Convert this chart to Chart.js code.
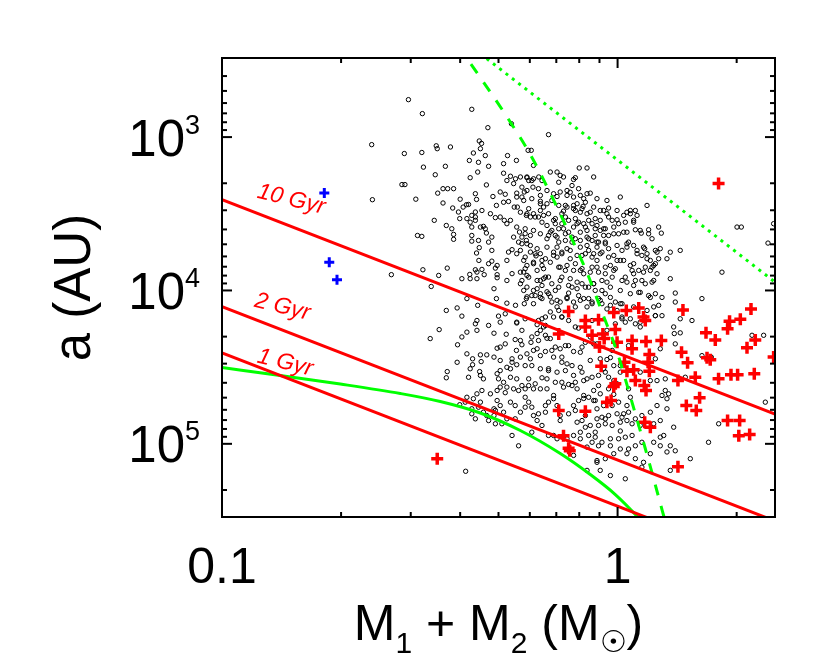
<!DOCTYPE html>
<html><head><meta charset="utf-8">
<script src="https://cdn.jsdelivr.net/npm/chart.js@4"></script>
<style>html,body{margin:0;padding:0;background:#fff;}#wrap{width:830px;height:664px;}</style>
</head><body><div id="wrap"><canvas id="c" width="830" height="664"></canvas></div>
<script>
// ---------- tick labels ----------
const xMajorTicks = [0.1, 1];
const xMajorLabels = ['0.1', '1'];
const xMinorTicks = [0.2, 0.3, 0.4, 0.5, 0.6, 0.7, 0.8, 0.9, 2];
const yMajorTicks = [1e3, 1e4, 1e5];
const yMajorBase = '10';
const yMajorExponents = ['3', '4', '5'];
const yMinorTicks = [400,500,600,700,800,900,2000,3000,4000,5000,6000,7000,8000,9000,20000,30000,40000,50000,60000,70000,80000,90000,200000];

// ---------- disruption lines (a proportional to M / age) ----------
const ageLabels = ['10 Gyr', '2 Gyr', '1 Gyr'];
const ageLineMass = [0.1, 2.5];
const ageLine10Gyr = [2560, 64000];
const ageLine2Gyr = [12750, 318750];
const ageLine1Gyr = [25500, 637500];

// ---------- green curves ----------
const greenSolidMass = [0.100,0.1404,0.1991,0.2823,0.3563,0.4497,0.5676,0.7164,0.853,0.987,1.128,1.175];
const greenSolidSep  = [31790,35850,40740,46980,52990,62970,81900,115700,158600,214200,302600,341300];
const greenDashMass = [0.3956,0.455,0.5262,0.6016,0.676,0.7551,0.8384,0.9203,0.9982,1.077,1.175,1.297,1.328];
const greenDashSep  = [256,427,744,1297,2329,4248,7746,14560,25380,49150,107300,272300,341300];
const greenDotMass = [0.45, 2.5];
const greenDotSep  = [286, 8825];

// ---------- crosses ----------
const blueCrosses = [[0.1814,2319],[0.1867,6538],[0.1953,8516]];
const redCrosses = [[0.752,13700],[0.829,15700],[0.829,17300],[0.895,15500],[0.978,13900],[1.052,13500],[1.131,13000],[1.163,14900],[1.175,15700],[1.463,13400],[2.174,13200],[2.043,15400],[1.919,15900],[1.897,17800],[0.710,19200],[0.862,19600],[0.918,19200],[0.925,20600],[0.987,18000],[0.997,21800],[0.900,23400],[1.088,21200],[1.088,24000],[1.180,21500],[1.290,21200],[1.673,18900],[1.766,21000],[2.229,21000],[2.124,23600],[2.48,27200],[1.203,26200],[1.194,29400],[1.203,33600],[1.451,25300],[1.503,29600],[1.683,27500],[1.715,28300],[0.909,31200],[1.041,29400],[1.056,33600],[1.098,32900],[1.109,38700],[1.421,38700],[1.572,36800],[1.800,37700],[1.935,35500],[2.011,35500],[2.216,34900],[0.978,42300],[0.987,40600],[1.168,41700],[1.180,44900],[0.940,53500],[0.963,52200],[1.612,50100],[1.492,56300],[1.581,60600],[0.710,60600],[0.829,61300],[1.171,72300],[1.210,77900],[1.897,70500],[2.035,70500],[2.025,88600],[2.157,86900],[0.730,88600],[0.752,107000],[0.757,111000],[1.421,141000],[1.800,2010],[0.350,125000]];

// ---------- wide binaries (open circles) [M1+M2, a] ----------
const widePairs = [
[0.296,570],[0.321,703],[0.428,659],[0.470,868],[0.539,818],[0.669,964],[0.447,1060],[0.453,1100],[0.348,1140],[0.350,1190],[0.378,1160],[0.239,1120],[0.289,1280],[0.320,1260],[0.432,1270],[0.450,1190],[0.463,1320],[0.594,1220],[0.605,1220],[0.527,1320],[0.555,1420],[0.422,1420],[0.445,1460],[0.367,1550],[0.323,1570],[0.472,1550],[0.515,1490],[0.703,1690],[0.800,1590],[0.613,1530],[0.632,1820],[0.644,1920],
[0.346,1760],[0.443,1690],[0.424,1840],[0.285,2040],[0.290,2040],[0.240,2560],[0.309,2540],[0.351,2320],[0.362,2170],[0.372,2170],[0.385,2170],[0.400,2540],[0.362,2690],[0.383,2900],[0.344,3490],[0.437,2340],[0.440,2550],[0.466,2050],[0.484,2440],[0.505,2280],[0.520,2360],[0.515,2660],[0.530,2630],[0.494,2790],[0.415,2760],[0.407,2860],[0.420,2750],[0.454,3010],[0.437,3080],[0.428,3240],[0.399,3400],[0.416,3400],[0.437,3490],[0.424,3590],[0.437,3320],[0.477,3160],[0.491,3350],[0.505,3320],[0.517,3490],[0.525,3670],[0.548,2860],[0.558,2860],[0.556,2320],[0.573,2460],[0.581,2280],[0.546,2010],[0.525,1920],[0.515,1720],[0.536,1800],[0.552,1870],[0.568,1820],[0.590,1840],[0.613,1870],[0.611,2120],[0.596,1920],[0.590,2230],[0.638,2400],[0.638,2620],[0.596,2930],[0.588,3240],[0.613,3160],[0.602,3320],[0.638,3010],[0.631,3320],[0.650,2860],[0.663,2720],[0.682,2590],[0.669,3160],[0.696,3400],[0.644,3590],[0.663,3770],[0.682,4060],[0.676,4160],[0.663,4600],[0.696,4380],[0.703,5220],[0.689,5910],[0.657,6210],[0.638,5760],[0.619,5760],[0.622,5950],[0.602,5620],[0.590,4960],[0.588,4720],[0.602,4380],[0.584,4260],[0.565,4160],[0.573,4490],[0.562,4840],[0.568,5480],[0.579,6370],[0.590,6870],[0.584,7210],[0.579,7590],[0.573,8610],[0.590,7980],[0.613,6690],[0.644,6370],[0.626,7400],[0.650,7210],[0.669,8180],[0.650,8380],[0.638,8610],[0.644,9280],[0.626,9740],[0.619,10800],[0.638,10500],[0.644,11300],[0.663,10200],[0.676,11000],[0.682,11900],[0.696,10000],[0.703,12800],[0.676,13800],[0.689,14900],[0.657,14900],[0.644,15300],[0.631,15700],[0.626,16700],[0.638,18200],[0.650,17300],[0.657,19600],[0.626,19100],[0.607,20100],[0.573,18200],[0.556,16100],[0.552,12500],[0.581,12200],[0.588,11300],[0.590,9510],[0.568,9040],[0.541,7770],[0.525,8610],[0.496,8260],[0.525,6370],[0.530,5620],[0.541,5420],[0.496,6870],[0.491,7150],[0.481,6440],[0.472,6690],[0.454,7290],[0.437,7330],[0.441,7590],[0.423,7860],[0.424,8380],[0.404,8380],[0.441,8380],[0.460,7890],[0.496,7890],[0.481,5480],[0.472,4840],[0.481,4490],[0.466,4220],[0.463,3960],[0.458,3820],[0.428,3860],[0.450,3860],[0.428,4380],[0.428,4770],[0.445,4720],[0.440,5700],[0.447,5260],[0.446,6370],[0.381,3960],[0.385,4310],[0.385,4640],[0.369,3770],[0.396,3080],[0.312,4380],[0.320,4440],[0.322,7330],[0.371,7150],[0.268,7890],[0.338,9420],[0.353,7980],[0.416,11300],[0.443,12500],[0.494,11300],[0.487,9740],[0.525,12100],[0.369,13500],[0.393,13000],[0.404,14700],[0.441,15700],[0.437,16500],[0.472,16900],[0.487,19000],[0.523,19300],[0.505,16100],[0.520,14200],[0.556,16300],[0.500,14700],[0.416,18700],[0.441,18200],[0.404,20100],[0.336,20600],[0.354,18000],[0.590,11000],[0.613,10000],[0.613,12200],
[0.716,1777],[0.730,1820],[0.774,1890],[0.782,1840],[0.870,1820],[0.767,2070],[0.710,1970],[0.759,2290],[0.745,2400],[0.797,2170],[0.837,2340],[0.853,2320],[0.821,2520],[0.829,2660],[0.870,2860],[0.790,2720],[0.774,2790],[0.738,2790],[0.703,2440],[0.730,3040],[0.738,3320],[0.723,3160],[0.782,3010],[0.805,3090],[0.813,2930],[0.837,3160],[0.878,3400],[0.904,3490],[0.922,3010],[0.940,3160],[0.949,2900],[0.997,3010],[1.036,3240],[1.056,3090],[1.077,3010],[1.109,3010],[1.120,3240],[0.997,3460],[0.969,3490],[1.006,3670],[1.046,3590],[1.098,3590],[1.187,2790],[0.696,3670],[0.710,3960],[0.703,4490],[0.752,3490],[0.774,3860],[0.782,3400],[0.797,3590],[0.821,3670],[0.845,3490],[0.862,3670],[0.878,3960],[0.887,3770],[0.904,4060],[0.931,3960],[0.922,4380],[0.949,4380],[0.978,4270],[1.006,4270],[1.056,4170],[1.109,4020],[1.148,4230],[1.198,4020],[1.270,3860],[1.290,4230],[1.222,4600],[1.066,4840],[1.056,4960],[1.098,5090],[1.163,5220],[1.171,5340],[1.246,5480],[1.282,5340],[1.120,5760],[1.152,5910],[1.187,6210],[1.210,6370],[1.270,6210],[1.333,6210],[1.359,5630],[1.440,5480],[1.026,5480],[1.036,6370],[1.077,6870],[1.088,7400],[1.131,7400],[1.163,7600],[1.210,7400],[1.258,7780],[1.222,7050],[1.246,6690],[1.359,8380],[1.026,8610],[1.056,8830],[1.109,8610],[1.175,9040],[1.222,8830],[1.399,10400],[1.098,9280],[1.077,10500],[1.131,10300],[1.198,10800],[1.246,10500],[1.295,11100],[1.234,12800],[1.270,12500],[1.246,14600],[1.295,14600],[1.187,13500],[1.175,15700],[1.077,15300],[1.109,16500],[1.141,16100],[1.026,12200],[0.987,11900],[0.959,11100],[0.931,10500],[0.913,12200],[0.895,11300],[0.940,13200],[0.997,13500],[1.026,14900],[1.046,16100],[0.987,16500],[0.805,11600],[0.774,11900],[0.782,12800],[0.745,11300],[0.716,11900],[0.710,13500],[0.723,14900],[0.752,15700],[0.782,17300],[0.837,12800],[0.845,11300],[0.862,11900],[0.878,10000],[0.797,10800],[0.752,10400],[0.710,9520],[0.723,8190],[0.759,8380],[0.738,7400],[0.716,7050],[0.703,6060],[0.723,5630],[0.745,5340],[0.767,4840],[0.782,4600],[0.837,4490],[0.862,4720],[0.878,4380],[0.895,4840],[0.931,4840],[0.949,5340],[0.978,5910],[0.997,6370],[0.987,7220],[0.959,6870],[0.931,7050],[0.895,7600],[0.913,8610],[0.940,8830],[0.969,8190],[0.870,9040],[0.845,9520],[0.813,9040],[0.790,9740],[0.767,9520],[0.821,7780],[0.805,7400],[0.782,6690],[0.759,6210],[0.813,5910],[0.845,5480],[0.870,5760],[0.887,6370],[0.862,7050],[0.887,5220],[0.913,5630],[0.837,5090],[0.805,5220],[0.738,4720],[0.710,4840],[0.837,4060],[0.805,4170],[0.752,4170],[0.730,3960],[1.634,11300],[1.836,7600],[2.004,3860],[2.055,3860],[2.40,4910],[2.48,3670],[1.399,11900],[1.440,15300],[1.386,17300],[1.440,18900],[1.391,19100],[2.187,19600],[2.340,19600],[1.542,15700],
[0.394,22600],[0.496,23800],[0.505,23400],[0.520,22300],[0.551,20900],[0.573,22600],[0.604,21800],[0.631,21200],[0.663,20500],[0.696,23400],[0.716,24000],[0.752,22900],[0.774,25000],[0.813,23400],[0.829,21800],[0.853,20100],[0.870,22300],[0.416,25900],[0.430,27900],[0.450,26300],[0.467,26300],[0.452,29100],[0.424,32400],[0.430,30500],[0.448,33800],[0.450,35800],[0.458,37700],[0.420,36800],[0.393,29400],[0.371,33800],[0.369,37100],[0.487,27200],[0.505,28600],[0.525,31700],[0.541,27900],[0.555,24600],[0.568,27200],[0.590,25900],[0.613,24600],[0.638,26600],[0.657,25000],[0.682,24600],[0.689,27200],[0.723,27200],[0.745,30100],[0.767,30900],[0.805,31700],[0.813,34100],[0.774,35800],[0.738,33300],[0.703,34100],[0.669,32400],[0.638,32400],[0.607,30900],[0.584,30900],[0.556,30500],[0.536,32400],[0.505,33300],[0.496,34900],[0.500,37700],[0.515,39700],[0.536,36800],[0.556,37700],[0.573,41700],[0.596,37700],[0.619,40600],[0.644,37100],[0.663,37700],[0.696,39700],[0.723,39700],[0.730,42700],[0.767,41700],[0.790,43800],[0.837,37700],[0.862,36800],[0.870,44900],[0.821,38700],[0.782,39700],[0.663,43800],[0.638,43800],[0.613,43800],[0.584,43800],[0.562,44900],[0.546,43800],[0.525,42700],[0.505,42700],[0.496,44900],[0.477,47200],[0.454,44900],[0.441,47200],[0.432,50800],[0.416,49700],[0.412,53500],[0.399,55600],[0.428,59100],[0.450,53500],[0.445,57700],[0.458,62200],[0.467,65400],[0.487,59100],[0.496,52200],[0.505,56300],[0.515,62200],[0.525,68700],[0.510,74000],[0.491,74000],[0.472,70500],[0.536,53500],[0.551,56300],[0.568,62200],[0.584,49700],[0.596,53500],[0.607,57700],[0.584,57700],[0.613,65400],[0.626,70500],[0.644,75900],[0.631,63700],[0.657,56300],[0.669,53500],[0.689,50800],[0.703,56300],[0.716,65400],[0.752,63700],[0.774,56300],[0.797,52200],[0.821,48400],[0.845,49700],[0.870,52200],[0.887,59100],[0.829,65400],[0.813,70500],[0.790,72300],[0.829,77900],[0.805,84000],[0.774,88200],[0.805,92700],[0.845,88200],[0.878,84000],[0.862,97700],[0.895,103000],[0.837,105000],[0.774,119000],[0.745,92700],[0.689,88200],[0.703,92700],[0.669,88200],[0.607,84000],[0.562,103000],[0.541,88200],[0.437,68700],[0.428,63700],[0.487,65400],[0.837,149000],[0.887,132000],[0.413,151000],
[0.904,27900],[0.940,28200],[0.959,27400],[0.978,30900],[0.922,32400],[0.895,35800],[0.949,36800],[0.978,38700],[1.016,34100],[0.997,40600],[0.949,43800],[0.904,47200],[0.878,52200],[0.922,56300],[0.969,56300],[1.006,53500],[1.056,56300],[1.077,49700],[1.066,62200],[1.036,63700],[0.997,63700],[0.949,65400],[0.913,67100],[0.887,68700],[0.895,75900],[0.931,74000],[0.969,75900],[1.016,72300],[1.026,67100],[1.056,70500],[1.088,74000],[1.109,68700],[1.152,65400],[1.210,62200],[1.234,74000],[1.282,70500],[1.258,56300],[1.295,48400],[1.333,50800],[1.320,44900],[1.346,47200],[1.258,38700],[1.320,37700],[1.399,22300],[1.483,36800],[1.386,77900],[1.333,59100],[1.308,88200],[1.282,90500],[1.359,103000],[1.399,111000],[1.333,113000],[1.282,103000],[1.234,97700],[1.210,116000],[1.152,97700],[1.109,103000],[1.088,88200],[1.046,90500],[1.006,92700],[0.959,92700],[0.913,97700],[0.878,90500],[1.066,108000],[1.056,116000],[1.016,108000],[0.978,116000],[0.959,103000],[0.931,125000],[0.887,128500],[0.904,149000],[0.959,161000],[1.046,169000],[1.109,125000],[1.163,132000],[1.152,142000],[1.359,149000],[1.527,125000],[1.698,97700],[1.801,74000],[2.363,53500],[1.634,26600],[1.725,27200],
[0.590,1820],[0.607,1920],[0.676,1690],[0.837,1590],[0.573,2120],[0.631,2170],[0.663,2230],[0.689,2340],[0.716,2280],[0.745,2230],[0.774,2460],[0.805,2400],[0.887,2520],[0.940,2590],[1.016,2460],[0.556,2460],[0.579,2590],[0.607,2520],[0.638,2720],[0.710,2790],[0.745,2860],[0.774,2930],[0.818,2830],[0.853,3090],[0.904,3010],[0.949,3320],[1.077,3160],[1.098,3490],[0.568,3090],[0.590,3160],[0.619,3320],[0.650,3240],[0.689,3490],[0.723,3670],[0.790,3670],[0.829,3860],[0.922,3960],[0.978,3860],[1.036,4170],[1.141,4060],[1.198,4270],[0.536,3490],[0.556,3860],[0.584,3960],[0.613,4060],[0.638,4270],[0.669,4380],[0.738,4270],[0.767,4490],[0.805,4720],[0.845,4600],[0.887,4840],[0.931,4960],[0.997,5090],[1.056,5220],[1.120,5480],[1.187,5760],[1.258,5630],[0.546,4490],[0.573,4960],[0.602,5090],[0.626,5340],[0.663,5220],[0.689,5630],[0.723,5760],[0.759,5480],[0.790,5910],[0.829,5760],[0.862,6060],[0.904,5760],[0.949,6060],[1.016,6370],[1.098,6690],[1.175,7050],[1.234,6870],[0.556,5760],[0.584,6060],[0.613,6550],[0.644,6870],[0.676,6550],[0.710,7050],[0.745,6870],[0.774,7400],[0.813,7210],[0.853,7600],[0.887,7050],[0.931,7780],[0.978,7400],[1.046,8190],[1.098,7780],[1.152,8610],[1.234,8610],[0.568,7600],[0.596,8190],[0.626,8610],[0.657,8190],[0.682,9040],[0.716,8610],[0.752,9280],[0.790,8830],[0.829,9520],[0.870,9040],[0.913,10000],[0.959,9520],[1.016,10000],[1.141,10300],[1.210,11100],[0.579,10000],[0.607,10800],[0.638,11100],[0.669,10500],[0.703,11600],[0.745,11100],[0.821,11300],[0.862,12200],[0.904,11600],[0.959,12500],[1.016,12200],[1.098,12800],
[0.584,15300],[0.657,16900],[0.723,14900],[0.797,17600],[0.862,15700],[0.940,18200],[1.026,15300],[1.141,17300],[1.246,14600],[0.568,21200],[0.626,24000],[0.676,20600],[0.738,22900],[0.805,25300],[0.887,22300],[0.969,24600],[1.066,22900],[1.282,24000],[0.541,29400],[0.602,27900],[0.669,33300],[0.723,29400],[0.853,28600],[0.931,34100],[1.016,30900],[1.141,34100],[1.246,27900],[0.520,46400],[0.596,41700],[0.689,48400],[0.752,41000],[0.821,50600],[0.895,41700],[0.978,47600],[1.066,43800],[1.210,38700],[0.491,60600],[0.551,68700],[0.657,62200],[0.716,70500],[0.782,60600],[0.853,75900],[0.931,68700],[1.016,82500],[1.141,75900]
];

// ---------- build ----------
const FONT = '"Liberation Sans", Arial, Helvetica, sans-serif';
const xy = (ms, as) => ms.map((m, i) => ({x: m, y: as[i]}));
const pairs = arr => arr.map(p => ({x: p[0], y: p[1]}));
const lineDs = (label, data, color, extra) => Object.assign({label, data, showLine: true, borderColor: color, borderWidth: 3, pointRadius: 0, fill: false, backgroundColor: color}, extra || {});

const ageLabelAnchors = [[0.1221, 2474], [0.1202, 12720], [0.1221, 29360]];

const framePlugin = {
  id: 'idlFrame',
  afterDatasetsDraw(chart) {
    const {ctx, chartArea: a} = chart;
    const X = chart.scales.x, Y = chart.scales.y;
    const seg = (x1, y1, x2, y2) => { ctx.beginPath(); ctx.moveTo(x1, y1); ctx.lineTo(x2, y2); ctx.stroke(); };
    ctx.save();
    // age labels
    ctx.fillStyle = '#ff0000';
    ctx.font = 'italic 23px ' + FONT;
    ctx.textAlign = 'left'; ctx.textBaseline = 'alphabetic';
    ageLabels.forEach((t, i) => {
      const px = X.getPixelForValue(ageLabelAnchors[i][0]);
      const py = Y.getPixelForValue(ageLabelAnchors[i][1]);
      ctx.save(); ctx.translate(px, py); ctx.rotate(14 * Math.PI / 180); ctx.fillText(t, 0, 0); ctx.restore();
    });
    // frame
    ctx.strokeStyle = '#000'; ctx.lineWidth = 2;
    ctx.strokeRect(a.left, a.top, a.right - a.left, a.bottom - a.top);
    // x ticks
    xMajorTicks.forEach(v => { const p = X.getPixelForValue(v); seg(p, a.bottom, p, a.bottom - 10); seg(p, a.top, p, a.top + 10); });
    xMinorTicks.forEach(v => { const p = X.getPixelForValue(v); seg(p, a.bottom, p, a.bottom - 5); seg(p, a.top, p, a.top + 5); });
    // y ticks
    yMajorTicks.forEach(v => { const p = Y.getPixelForValue(v); seg(a.left, p, a.left + 10, p); seg(a.right, p, a.right - 10, p); });
    yMinorTicks.forEach(v => { const p = Y.getPixelForValue(v); seg(a.left, p, a.left + 5, p); seg(a.right, p, a.right - 5, p); });
    // x tick labels
    ctx.fillStyle = '#000';
    ctx.font = '50px ' + FONT;
    ctx.textAlign = 'center';
    xMajorTicks.forEach((v, i) => ctx.fillText(xMajorLabels[i], X.getPixelForValue(v), 583));
    // y tick labels with superscript
    yMajorTicks.forEach((v, i) => {
      const p = Y.getPixelForValue(v);
      ctx.font = '51px ' + FONT; ctx.textAlign = 'right';
      ctx.fillText(yMajorBase, 185, p + 18.5);
      ctx.font = '27px ' + FONT; ctx.textAlign = 'left';
      ctx.fillText(yMajorExponents[i], 185, p - 3.5);
    });
    // y title
    ctx.save();
    ctx.translate(90, (a.top + a.bottom) / 2);
    ctx.rotate(-Math.PI / 2);
    ctx.font = '51px ' + FONT; ctx.textAlign = 'center';
    ctx.fillText('a (AU)', 0, 0);
    ctx.restore();
    // x title with subscripts
    const parts = [
      {t: 'M', f: '50px ' + FONT, dy: 0},
      {t: '1', f: '30px ' + FONT, dy: 13},
      {t: ' + M', f: '50px ' + FONT, dy: 0},
      {t: '2', f: '30px ' + FONT, dy: 13},
      {t: ' (M', f: '50px ' + FONT, dy: 0},
      {t: '\u2609', f: '30px "DejaVu Sans", sans-serif', dy: 12},
      {t: ')', f: '50px ' + FONT, dy: 0}
    ];
    let total = 0;
    parts.forEach(p => { ctx.font = p.f; p.w = ctx.measureText(p.t).width; total += p.w; });
    let cx = (a.left + a.right) / 2 - total / 2;
    ctx.textAlign = 'left';
    parts.forEach(p => { ctx.font = p.f; ctx.fillText(p.t, cx, 640 + p.dy); cx += p.w; });
    ctx.restore();
  }
};

new Chart(document.getElementById('c'), {
  type: 'scatter',
  data: {
    datasets: [
      lineDs('10 Gyr', xy(ageLineMass, ageLine10Gyr), '#ff0000'),
      lineDs('2 Gyr', xy(ageLineMass, ageLine2Gyr), '#ff0000'),
      lineDs('1 Gyr', xy(ageLineMass, ageLine1Gyr), '#ff0000'),
      lineDs('green solid', xy(greenSolidMass, greenSolidSep), '#00ff00', {cubicInterpolationMode: 'monotone'}),
      lineDs('green dashed', xy(greenDashMass, greenDashSep), '#00ff00', {cubicInterpolationMode: 'monotone', borderDash: [11, 11]}),
      lineDs('green dotted', xy(greenDotMass, greenDotSep), '#00ff00', {borderDash: [3, 5], borderWidth: 3}),
      {label: 'blue', data: pairs(blueCrosses), pointStyle: 'cross', pointRadius: 5, borderWidth: 3, borderColor: '#0000ff', backgroundColor: '#0000ff'},
      {label: 'red', data: pairs(redCrosses), pointStyle: 'cross', pointRadius: 6, borderWidth: 3.5, borderColor: '#ff0000', backgroundColor: '#ff0000'},
      {label: 'wide binaries', data: pairs(widePairs), pointStyle: 'circle', pointRadius: 2.2, borderWidth: 1, borderColor: '#000', backgroundColor: 'rgba(0,0,0,0)'}
    ]
  },
  options: {
    responsive: false, animation: false, events: [],
    layout: {padding: {left: 222, top: 58, right: 55, bottom: 147}},
    scales: {
      x: {type: 'logarithmic', min: 0.1, max: 2.5, display: false},
      y: {type: 'logarithmic', min: 305, max: 300000, reverse: true, display: false}
    },
    plugins: {legend: {display: false}, tooltip: {enabled: false}}
  },
  plugins: [framePlugin]
});
</script>
</body></html>
